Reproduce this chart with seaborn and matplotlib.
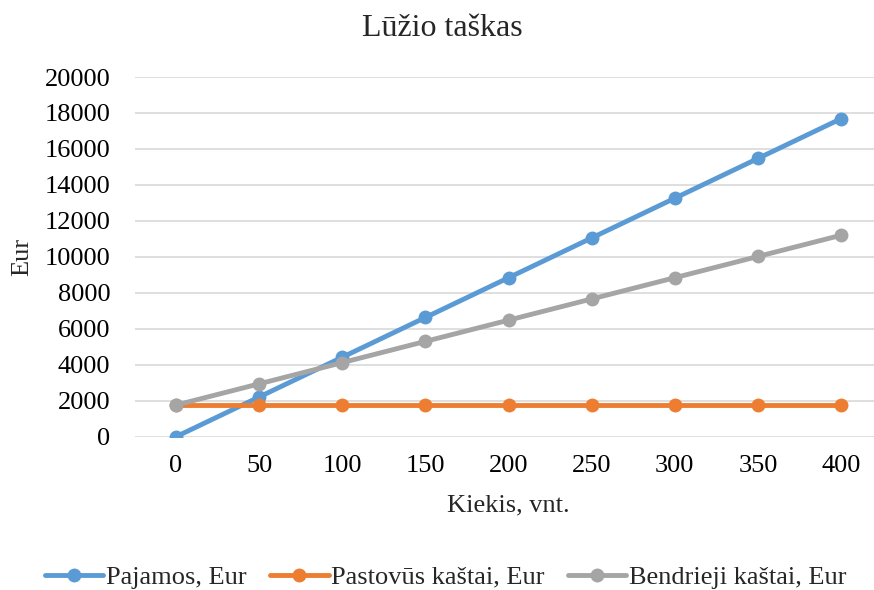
import matplotlib
matplotlib.use("Agg")
import matplotlib.pyplot as plt
import seaborn as sns
import pandas as pd
from matplotlib.lines import Line2D

kiekis = [0, 50, 100, 150, 200, 250, 300, 350, 400]
pajamos = [0, 2210, 4420, 6630, 8840, 11050, 13260, 15470, 17680]
pastovus = [1760, 1760, 1760, 1760, 1760, 1760, 1760, 1760, 1760]
bendrieji = [1760, 2940, 4120, 5300, 6480, 7660, 8840, 10020, 11200]
series_names = ["Pajamos, Eur", "Pastovūs kaštai, Eur", "Bendrieji kaštai, Eur"]
colors = ["#5B9BD5", "#ED7D31", "#A5A5A5"]
y_ticks = [0, 2000, 4000, 6000, 8000, 10000, 12000, 14000, 16000, 18000, 20000]

sns.set_theme(style="white")
plt.rcParams['font.family'] = ['Liberation Serif', 'DejaVu Serif']

frames = []
for name, vals in zip(series_names, [pajamos, pastovus, bendrieji]):
    frames.append(pd.DataFrame({"Kiekis": kiekis, "Eur": vals, "Serija": name}))
df = pd.concat(frames, ignore_index=True)

fig = plt.figure(figsize=(8.74, 5.90), dpi=100)
ax = fig.add_axes([134.5 / 874, 153.3 / 590, 748.1 / 874, 359.7 / 590])

sns.lineplot(data=df, x="Kiekis", y="Eur", hue="Serija", hue_order=series_names,
             palette=colors, marker="o", markersize=10, markeredgewidth=0,
             linewidth=3.5, ax=ax, legend=False, zorder=3)

ax.set_xlim(-25, 425)
ax.set_ylim(0, 20000)
ax.set_yticks(y_ticks)
ax.set_yticklabels([str(v) for v in y_ticks])
ax.set_xticks(kiekis)
ax.set_xticklabels([str(v) for v in kiekis])
ax.grid(axis="y", color="#D9D9D9", linewidth=1.2, zorder=0)
ax.grid(axis="x", visible=False)
for s in ax.spines.values():
    s.set_visible(False)
ax.tick_params(axis="both", which="both", length=0, labelsize=19, colors="#000000")
ax.tick_params(axis="y", pad=17.5)
ax.tick_params(axis="x", pad=13)

ax.set_xlabel("Kiekis, vnt.", fontsize=19, labelpad=13)
ax.set_ylabel("")
fig.text(22 / 874, 1 - 257 / 590, "Eur", rotation=90, ha="center", va="center", fontsize=19)
fig.text(442 / 874, 1 - 29 / 590, "Lūžio taškas", ha="center", va="center", fontsize=23)

handles = [Line2D([0], [0], color=c, linewidth=3.5, marker="o", markersize=10,
                  markeredgewidth=0) for c in colors]
fig.legend(handles, series_names, loc="center", bbox_to_anchor=(446 / 874, 1 - 577 / 590),
           ncol=3, frameon=False, fontsize=19, handlelength=2.2, handletextpad=0.1,
           columnspacing=0.9)

fig.savefig("out.png", dpi=100)
